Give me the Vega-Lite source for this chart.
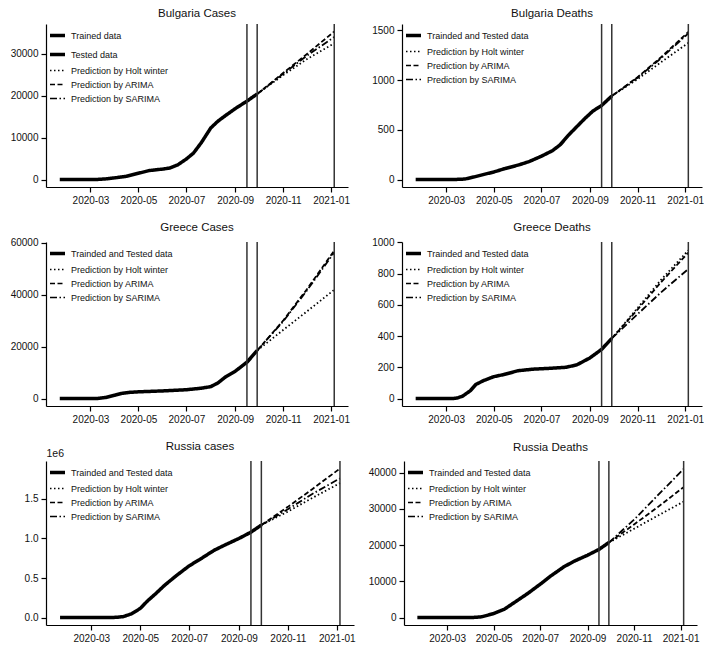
{
  "$schema": "https://vega.github.io/schema/vega-lite/v6.json",
  "padding": {"left": 6, "top": 7, "right": 0, "bottom": 0},
  "background": "white",
  "datasets": {
    "rules": [{"d": "2020-09-16"}, {"d": "2020-09-29"}, {"d": "2021-01-05"}],
    "ts": [
      {"p":"BG_C","s":"Trained data","d":"2020-01-22","v":0},
      {"p":"BG_C","s":"Trained data","d":"2020-02-20","v":0},
      {"p":"BG_C","s":"Trained data","d":"2020-03-08","v":0},
      {"p":"BG_C","s":"Trained data","d":"2020-03-20","v":150},
      {"p":"BG_C","s":"Trained data","d":"2020-04-01","v":400},
      {"p":"BG_C","s":"Trained data","d":"2020-04-15","v":750},
      {"p":"BG_C","s":"Trained data","d":"2020-05-01","v":1500},
      {"p":"BG_C","s":"Trained data","d":"2020-05-15","v":2150},
      {"p":"BG_C","s":"Trained data","d":"2020-06-01","v":2500},
      {"p":"BG_C","s":"Trained data","d":"2020-06-10","v":2750},
      {"p":"BG_C","s":"Trained data","d":"2020-06-20","v":3500},
      {"p":"BG_C","s":"Trained data","d":"2020-07-01","v":4900},
      {"p":"BG_C","s":"Trained data","d":"2020-07-10","v":6300},
      {"p":"BG_C","s":"Trained data","d":"2020-07-20","v":8800},
      {"p":"BG_C","s":"Trained data","d":"2020-08-01","v":12300},
      {"p":"BG_C","s":"Trained data","d":"2020-08-10","v":13900},
      {"p":"BG_C","s":"Trained data","d":"2020-08-20","v":15300},
      {"p":"BG_C","s":"Trained data","d":"2020-09-01","v":16900},
      {"p":"BG_C","s":"Trained data","d":"2020-09-16","v":18700},
      {"p":"BG_C","s":"Tested data","d":"2020-09-16","v":18700},
      {"p":"BG_C","s":"Tested data","d":"2020-09-22","v":19500},
      {"p":"BG_C","s":"Tested data","d":"2020-09-29","v":20400},
      {"p":"BG_C","s":"Prediction by Holt winter","d":"2020-09-29","v":20400},
      {"p":"BG_C","s":"Prediction by Holt winter","d":"2020-11-01","v":24900},
      {"p":"BG_C","s":"Prediction by Holt winter","d":"2020-12-01","v":28700},
      {"p":"BG_C","s":"Prediction by Holt winter","d":"2021-01-05","v":32500},
      {"p":"BG_C","s":"Prediction by ARIMA","d":"2020-09-29","v":20400},
      {"p":"BG_C","s":"Prediction by ARIMA","d":"2020-11-01","v":25400},
      {"p":"BG_C","s":"Prediction by ARIMA","d":"2020-12-01","v":29900},
      {"p":"BG_C","s":"Prediction by ARIMA","d":"2021-01-05","v":35300},
      {"p":"BG_C","s":"Prediction by SARIMA","d":"2020-09-29","v":20400},
      {"p":"BG_C","s":"Prediction by SARIMA","d":"2020-11-01","v":25200},
      {"p":"BG_C","s":"Prediction by SARIMA","d":"2020-12-01","v":29500},
      {"p":"BG_C","s":"Prediction by SARIMA","d":"2021-01-05","v":34000},

      {"p":"BG_D","s":"Trainded and Tested data","d":"2020-01-22","v":0},
      {"p":"BG_D","s":"Trainded and Tested data","d":"2020-02-20","v":0},
      {"p":"BG_D","s":"Trainded and Tested data","d":"2020-03-10","v":0},
      {"p":"BG_D","s":"Trainded and Tested data","d":"2020-03-25","v":5},
      {"p":"BG_D","s":"Trainded and Tested data","d":"2020-04-05","v":25},
      {"p":"BG_D","s":"Trainded and Tested data","d":"2020-04-15","v":45},
      {"p":"BG_D","s":"Trainded and Tested data","d":"2020-05-01","v":76},
      {"p":"BG_D","s":"Trainded and Tested data","d":"2020-05-15","v":110},
      {"p":"BG_D","s":"Trainded and Tested data","d":"2020-06-01","v":145},
      {"p":"BG_D","s":"Trainded and Tested data","d":"2020-06-15","v":180},
      {"p":"BG_D","s":"Trainded and Tested data","d":"2020-07-01","v":235},
      {"p":"BG_D","s":"Trainded and Tested data","d":"2020-07-15","v":290},
      {"p":"BG_D","s":"Trainded and Tested data","d":"2020-07-25","v":350},
      {"p":"BG_D","s":"Trainded and Tested data","d":"2020-08-05","v":450},
      {"p":"BG_D","s":"Trainded and Tested data","d":"2020-08-15","v":530},
      {"p":"BG_D","s":"Trainded and Tested data","d":"2020-08-25","v":610},
      {"p":"BG_D","s":"Trainded and Tested data","d":"2020-09-05","v":690},
      {"p":"BG_D","s":"Trainded and Tested data","d":"2020-09-16","v":745},
      {"p":"BG_D","s":"Trainded and Tested data","d":"2020-09-29","v":840},
      {"p":"BG_D","s":"Prediction by Holt winter","d":"2020-09-29","v":840},
      {"p":"BG_D","s":"Prediction by Holt winter","d":"2020-11-01","v":1010},
      {"p":"BG_D","s":"Prediction by Holt winter","d":"2020-12-01","v":1180},
      {"p":"BG_D","s":"Prediction by Holt winter","d":"2021-01-05","v":1375},
      {"p":"BG_D","s":"Prediction by ARIMA","d":"2020-09-29","v":840},
      {"p":"BG_D","s":"Prediction by ARIMA","d":"2020-11-01","v":1030},
      {"p":"BG_D","s":"Prediction by ARIMA","d":"2020-12-01","v":1230},
      {"p":"BG_D","s":"Prediction by ARIMA","d":"2021-01-05","v":1485},
      {"p":"BG_D","s":"Prediction by SARIMA","d":"2020-09-29","v":840},
      {"p":"BG_D","s":"Prediction by SARIMA","d":"2020-11-01","v":1025},
      {"p":"BG_D","s":"Prediction by SARIMA","d":"2020-12-01","v":1220},
      {"p":"BG_D","s":"Prediction by SARIMA","d":"2021-01-05","v":1470},

      {"p":"GR_C","s":"Trainded and Tested data","d":"2020-01-22","v":0},
      {"p":"GR_C","s":"Trainded and Tested data","d":"2020-02-25","v":0},
      {"p":"GR_C","s":"Trainded and Tested data","d":"2020-03-10","v":50},
      {"p":"GR_C","s":"Trainded and Tested data","d":"2020-03-20","v":400},
      {"p":"GR_C","s":"Trainded and Tested data","d":"2020-04-01","v":1300},
      {"p":"GR_C","s":"Trainded and Tested data","d":"2020-04-10","v":2000},
      {"p":"GR_C","s":"Trainded and Tested data","d":"2020-04-20","v":2400},
      {"p":"GR_C","s":"Trainded and Tested data","d":"2020-05-01","v":2600},
      {"p":"GR_C","s":"Trainded and Tested data","d":"2020-06-01","v":2950},
      {"p":"GR_C","s":"Trainded and Tested data","d":"2020-07-01","v":3400},
      {"p":"GR_C","s":"Trainded and Tested data","d":"2020-07-20","v":4000},
      {"p":"GR_C","s":"Trainded and Tested data","d":"2020-08-01","v":4600},
      {"p":"GR_C","s":"Trainded and Tested data","d":"2020-08-10","v":6000},
      {"p":"GR_C","s":"Trainded and Tested data","d":"2020-08-20","v":8400},
      {"p":"GR_C","s":"Trainded and Tested data","d":"2020-09-01","v":10500},
      {"p":"GR_C","s":"Trainded and Tested data","d":"2020-09-16","v":14000},
      {"p":"GR_C","s":"Trainded and Tested data","d":"2020-09-29","v":18500},
      {"p":"GR_C","s":"Prediction by Holt winter","d":"2020-09-29","v":18500},
      {"p":"GR_C","s":"Prediction by Holt winter","d":"2020-11-01","v":26400},
      {"p":"GR_C","s":"Prediction by Holt winter","d":"2020-12-01","v":33500},
      {"p":"GR_C","s":"Prediction by Holt winter","d":"2021-01-05","v":41900},
      {"p":"GR_C","s":"Prediction by ARIMA","d":"2020-09-29","v":18500},
      {"p":"GR_C","s":"Prediction by ARIMA","d":"2020-11-01","v":30000},
      {"p":"GR_C","s":"Prediction by ARIMA","d":"2020-12-01","v":42000},
      {"p":"GR_C","s":"Prediction by ARIMA","d":"2021-01-05","v":57000},
      {"p":"GR_C","s":"Prediction by SARIMA","d":"2020-09-29","v":18500},
      {"p":"GR_C","s":"Prediction by SARIMA","d":"2020-11-01","v":29700},
      {"p":"GR_C","s":"Prediction by SARIMA","d":"2020-12-01","v":41500},
      {"p":"GR_C","s":"Prediction by SARIMA","d":"2021-01-05","v":56300},

      {"p":"GR_D","s":"Trainded and Tested data","d":"2020-01-22","v":0},
      {"p":"GR_D","s":"Trainded and Tested data","d":"2020-03-10","v":0},
      {"p":"GR_D","s":"Trainded and Tested data","d":"2020-03-15","v":3},
      {"p":"GR_D","s":"Trainded and Tested data","d":"2020-03-22","v":15},
      {"p":"GR_D","s":"Trainded and Tested data","d":"2020-04-01","v":50},
      {"p":"GR_D","s":"Trainded and Tested data","d":"2020-04-08","v":90},
      {"p":"GR_D","s":"Trainded and Tested data","d":"2020-04-18","v":115},
      {"p":"GR_D","s":"Trainded and Tested data","d":"2020-05-01","v":140},
      {"p":"GR_D","s":"Trainded and Tested data","d":"2020-05-15","v":155},
      {"p":"GR_D","s":"Trainded and Tested data","d":"2020-06-01","v":178},
      {"p":"GR_D","s":"Trainded and Tested data","d":"2020-06-20","v":188},
      {"p":"GR_D","s":"Trainded and Tested data","d":"2020-07-10","v":193},
      {"p":"GR_D","s":"Trainded and Tested data","d":"2020-08-01","v":200},
      {"p":"GR_D","s":"Trainded and Tested data","d":"2020-08-15","v":215},
      {"p":"GR_D","s":"Trainded and Tested data","d":"2020-09-01","v":260},
      {"p":"GR_D","s":"Trainded and Tested data","d":"2020-09-16","v":315},
      {"p":"GR_D","s":"Trainded and Tested data","d":"2020-09-29","v":385},
      {"p":"GR_D","s":"Prediction by Holt winter","d":"2020-09-29","v":385},
      {"p":"GR_D","s":"Prediction by Holt winter","d":"2020-11-01","v":580},
      {"p":"GR_D","s":"Prediction by Holt winter","d":"2020-12-01","v":760},
      {"p":"GR_D","s":"Prediction by Holt winter","d":"2021-01-05","v":950},
      {"p":"GR_D","s":"Prediction by ARIMA","d":"2020-09-29","v":385},
      {"p":"GR_D","s":"Prediction by ARIMA","d":"2020-11-01","v":570},
      {"p":"GR_D","s":"Prediction by ARIMA","d":"2020-12-01","v":745},
      {"p":"GR_D","s":"Prediction by ARIMA","d":"2021-01-05","v":935},
      {"p":"GR_D","s":"Prediction by SARIMA","d":"2020-09-29","v":385},
      {"p":"GR_D","s":"Prediction by SARIMA","d":"2020-11-01","v":540},
      {"p":"GR_D","s":"Prediction by SARIMA","d":"2020-12-01","v":680},
      {"p":"GR_D","s":"Prediction by SARIMA","d":"2021-01-05","v":830},

      {"p":"RU_C","s":"Trainded and Tested data","d":"2020-01-22","v":0},
      {"p":"RU_C","s":"Trainded and Tested data","d":"2020-03-01","v":0},
      {"p":"RU_C","s":"Trainded and Tested data","d":"2020-03-20","v":200},
      {"p":"RU_C","s":"Trainded and Tested data","d":"2020-04-01","v":2800},
      {"p":"RU_C","s":"Trainded and Tested data","d":"2020-04-10","v":12000},
      {"p":"RU_C","s":"Trainded and Tested data","d":"2020-04-20","v":47000},
      {"p":"RU_C","s":"Trainded and Tested data","d":"2020-05-01","v":115000},
      {"p":"RU_C","s":"Trainded and Tested data","d":"2020-05-10","v":210000},
      {"p":"RU_C","s":"Trainded and Tested data","d":"2020-05-20","v":300000},
      {"p":"RU_C","s":"Trainded and Tested data","d":"2020-06-01","v":414000},
      {"p":"RU_C","s":"Trainded and Tested data","d":"2020-06-15","v":530000},
      {"p":"RU_C","s":"Trainded and Tested data","d":"2020-07-01","v":654000},
      {"p":"RU_C","s":"Trainded and Tested data","d":"2020-07-15","v":740000},
      {"p":"RU_C","s":"Trainded and Tested data","d":"2020-08-01","v":850000},
      {"p":"RU_C","s":"Trainded and Tested data","d":"2020-08-15","v":920000},
      {"p":"RU_C","s":"Trainded and Tested data","d":"2020-09-01","v":1000000},
      {"p":"RU_C","s":"Trainded and Tested data","d":"2020-09-16","v":1080000},
      {"p":"RU_C","s":"Trainded and Tested data","d":"2020-09-29","v":1170000},
      {"p":"RU_C","s":"Prediction by Holt winter","d":"2020-09-29","v":1170000},
      {"p":"RU_C","s":"Prediction by Holt winter","d":"2020-11-01","v":1340000},
      {"p":"RU_C","s":"Prediction by Holt winter","d":"2020-12-01","v":1510000},
      {"p":"RU_C","s":"Prediction by Holt winter","d":"2021-01-05","v":1700000},
      {"p":"RU_C","s":"Prediction by ARIMA","d":"2020-09-29","v":1170000},
      {"p":"RU_C","s":"Prediction by ARIMA","d":"2020-11-01","v":1400000},
      {"p":"RU_C","s":"Prediction by ARIMA","d":"2020-12-01","v":1620000},
      {"p":"RU_C","s":"Prediction by ARIMA","d":"2021-01-05","v":1885000},
      {"p":"RU_C","s":"Prediction by SARIMA","d":"2020-09-29","v":1170000},
      {"p":"RU_C","s":"Prediction by SARIMA","d":"2020-11-01","v":1370000},
      {"p":"RU_C","s":"Prediction by SARIMA","d":"2020-12-01","v":1560000},
      {"p":"RU_C","s":"Prediction by SARIMA","d":"2021-01-05","v":1760000},

      {"p":"RU_D","s":"Trainded and Tested data","d":"2020-01-22","v":0},
      {"p":"RU_D","s":"Trainded and Tested data","d":"2020-03-20","v":0},
      {"p":"RU_D","s":"Trainded and Tested data","d":"2020-04-05","v":50},
      {"p":"RU_D","s":"Trainded and Tested data","d":"2020-04-15","v":200},
      {"p":"RU_D","s":"Trainded and Tested data","d":"2020-05-01","v":1100},
      {"p":"RU_D","s":"Trainded and Tested data","d":"2020-05-15","v":2300},
      {"p":"RU_D","s":"Trainded and Tested data","d":"2020-06-01","v":4700},
      {"p":"RU_D","s":"Trainded and Tested data","d":"2020-06-15","v":6700},
      {"p":"RU_D","s":"Trainded and Tested data","d":"2020-07-01","v":9200},
      {"p":"RU_D","s":"Trainded and Tested data","d":"2020-07-15","v":11500},
      {"p":"RU_D","s":"Trainded and Tested data","d":"2020-08-01","v":14000},
      {"p":"RU_D","s":"Trainded and Tested data","d":"2020-08-15","v":15600},
      {"p":"RU_D","s":"Trainded and Tested data","d":"2020-09-01","v":17200},
      {"p":"RU_D","s":"Trainded and Tested data","d":"2020-09-16","v":18800},
      {"p":"RU_D","s":"Trainded and Tested data","d":"2020-09-29","v":20700},
      {"p":"RU_D","s":"Prediction by Holt winter","d":"2020-09-29","v":20700},
      {"p":"RU_D","s":"Prediction by Holt winter","d":"2020-11-01","v":24500},
      {"p":"RU_D","s":"Prediction by Holt winter","d":"2020-12-01","v":28000},
      {"p":"RU_D","s":"Prediction by Holt winter","d":"2021-01-05","v":32000},
      {"p":"RU_D","s":"Prediction by ARIMA","d":"2020-09-29","v":20700},
      {"p":"RU_D","s":"Prediction by ARIMA","d":"2020-11-01","v":25700},
      {"p":"RU_D","s":"Prediction by ARIMA","d":"2020-12-01","v":30300},
      {"p":"RU_D","s":"Prediction by ARIMA","d":"2021-01-05","v":36000},
      {"p":"RU_D","s":"Prediction by SARIMA","d":"2020-09-29","v":20700},
      {"p":"RU_D","s":"Prediction by SARIMA","d":"2020-11-01","v":27000},
      {"p":"RU_D","s":"Prediction by SARIMA","d":"2020-12-01","v":33500},
      {"p":"RU_D","s":"Prediction by SARIMA","d":"2021-01-05","v":41000}
    ]
  },
  "resolve": {"scale": {"x": "independent", "y": "independent", "strokeDash": "independent"}, "legend": {"strokeDash": "independent"}},
  "spacing": 16,
  "vconcat": [
    {
      "spacing": 20,
      "resolve": {"scale": {"x": "independent", "y": "independent", "strokeDash": "independent"}, "legend": {"strokeDash": "independent"}},
      "hconcat": [
        {
          "title": "Bulgaria Cases",
          "width": 302, "height": 163,
          "layer": [
            {
              "data": {"name": "ts"},
              "transform": [{"filter": "datum.p === 'BG_C'"}],
              "mark": {"type": "line", "color": "black"},
              "encoding": {
                "x": {"field": "d", "type": "temporal", "title": null,
                      "scale": {"type": "utc", "domain": [{"year": 2020, "month": 1, "date": 4, "hours": 12, "utc": true}, {"year": 2021, "month": 1, "date": 22, "hours": 12, "utc": true}]},
                      "axis": {"format": "%Y-%m", "values": [{"year": 2020, "month": 3, "date": 1, "utc": true}, {"year": 2020, "month": 5, "date": 1, "utc": true}, {"year": 2020, "month": 7, "date": 1, "utc": true}, {"year": 2020, "month": 9, "date": 1, "utc": true}, {"year": 2020, "month": 11, "date": 1, "utc": true}, {"year": 2021, "month": 1, "date": 1, "utc": true}]}},
                "y": {"field": "v", "type": "quantitative", "title": null,
                      "scale": {"domain": [-1780, 37100], "nice": false, "zero": false},
                      "axis": {"values": [0, 10000, 20000, 30000], "format": "d", "minExtent": 40, "maxExtent": 40}},
                "strokeDash": {"field": "s", "type": "nominal",
                  "scale": {"domain": ["Trained data", "Tested data", "Prediction by Holt winter", "Prediction by ARIMA", "Prediction by SARIMA"], "range": [[1, 0], [1, 0], [1.5, 2.5], [5, 2.5], [7, 2.5, 1.5, 2.5]]},
                  "legend": {"title": null, "orient": "top-left", "encode": {"symbols": {"update": {"strokeWidth": {"signal": "indexof(['Trained data','Tested data','Trainded and Tested data'], datum.value) >= 0 ? 3.5 : 1.5"}}}}}},
                "strokeWidth": {"condition": {"test": "indexof(['Trained data','Tested data','Trainded and Tested data'], datum.s) >= 0", "value": 3.5}, "value": 1.8}
              }
            },
            {
              "data": {"name": "rules"},
              "mark": {"type": "rule", "color": "#333", "strokeWidth": 1.5},
              "encoding": {"x": {"field": "d", "type": "temporal"}}
            }
          ]
        },
        {
          "title": "Bulgaria Deaths",
          "width": 300, "height": 163,
          "layer": [
            {
              "data": {"name": "ts"},
              "transform": [{"filter": "datum.p === 'BG_D'"}],
              "mark": {"type": "line", "color": "black"},
              "encoding": {
                "x": {"field": "d", "type": "temporal", "title": null,
                      "scale": {"type": "utc", "domain": [{"year": 2020, "month": 1, "date": 4, "hours": 12, "utc": true}, {"year": 2021, "month": 1, "date": 22, "hours": 12, "utc": true}]},
                      "axis": {"format": "%Y-%m", "values": [{"year": 2020, "month": 3, "date": 1, "utc": true}, {"year": 2020, "month": 5, "date": 1, "utc": true}, {"year": 2020, "month": 7, "date": 1, "utc": true}, {"year": 2020, "month": 9, "date": 1, "utc": true}, {"year": 2020, "month": 11, "date": 1, "utc": true}, {"year": 2021, "month": 1, "date": 1, "utc": true}]}},
                "y": {"field": "v", "type": "quantitative", "title": null,
                      "scale": {"domain": [-75, 1565], "nice": false, "zero": false},
                      "axis": {"values": [0, 500, 1000, 1500], "format": "d", "minExtent": 32, "maxExtent": 32}},
                "strokeDash": {"field": "s", "type": "nominal",
                  "scale": {"domain": ["Trainded and Tested data", "Prediction by Holt winter", "Prediction by ARIMA", "Prediction by SARIMA"], "range": [[1, 0], [1.5, 2.5], [5, 2.5], [7, 2.5, 1.5, 2.5]]},
                  "legend": {"title": null, "orient": "top-left", "encode": {"symbols": {"update": {"strokeWidth": {"signal": "indexof(['Trained data','Tested data','Trainded and Tested data'], datum.value) >= 0 ? 3.5 : 1.5"}}}}}},
                "strokeWidth": {"condition": {"test": "indexof(['Trained data','Tested data','Trainded and Tested data'], datum.s) >= 0", "value": 3.5}, "value": 1.8}
              }
            },
            {
              "data": {"name": "rules"},
              "mark": {"type": "rule", "color": "#333", "strokeWidth": 1.5},
              "encoding": {"x": {"field": "d", "type": "temporal"}}
            }
          ]
        }
      ]
    },
    {
      "spacing": 20,
      "resolve": {"scale": {"x": "independent", "y": "independent", "strokeDash": "independent"}, "legend": {"strokeDash": "independent"}},
      "hconcat": [
        {
          "title": "Greece Cases",
          "width": 302, "height": 164,
          "layer": [
            {
              "data": {"name": "ts"},
              "transform": [{"filter": "datum.p === 'GR_C'"}],
              "mark": {"type": "line", "color": "black"},
              "encoding": {
                "x": {"field": "d", "type": "temporal", "title": null,
                      "scale": {"type": "utc", "domain": [{"year": 2020, "month": 1, "date": 4, "hours": 12, "utc": true}, {"year": 2021, "month": 1, "date": 22, "hours": 12, "utc": true}]},
                      "axis": {"format": "%Y-%m", "values": [{"year": 2020, "month": 3, "date": 1, "utc": true}, {"year": 2020, "month": 5, "date": 1, "utc": true}, {"year": 2020, "month": 7, "date": 1, "utc": true}, {"year": 2020, "month": 9, "date": 1, "utc": true}, {"year": 2020, "month": 11, "date": 1, "utc": true}, {"year": 2021, "month": 1, "date": 1, "utc": true}]}},
                "y": {"field": "v", "type": "quantitative", "title": null,
                      "scale": {"domain": [-2860, 60300], "nice": false, "zero": false},
                      "axis": {"values": [0, 20000, 40000, 60000], "format": "d", "minExtent": 40, "maxExtent": 40}},
                "strokeDash": {"field": "s", "type": "nominal",
                  "scale": {"domain": ["Trainded and Tested data", "Prediction by Holt winter", "Prediction by ARIMA", "Prediction by SARIMA"], "range": [[1, 0], [1.5, 2.5], [5, 2.5], [7, 2.5, 1.5, 2.5]]},
                  "legend": {"title": null, "orient": "top-left", "encode": {"symbols": {"update": {"strokeWidth": {"signal": "indexof(['Trained data','Tested data','Trainded and Tested data'], datum.value) >= 0 ? 3.5 : 1.5"}}}}}},
                "strokeWidth": {"condition": {"test": "indexof(['Trained data','Tested data','Trainded and Tested data'], datum.s) >= 0", "value": 3.5}, "value": 1.8}
              }
            },
            {
              "data": {"name": "rules"},
              "mark": {"type": "rule", "color": "#333", "strokeWidth": 1.5},
              "encoding": {"x": {"field": "d", "type": "temporal"}}
            }
          ]
        },
        {
          "title": "Greece Deaths",
          "width": 300, "height": 164,
          "layer": [
            {
              "data": {"name": "ts"},
              "transform": [{"filter": "datum.p === 'GR_D'"}],
              "mark": {"type": "line", "color": "black"},
              "encoding": {
                "x": {"field": "d", "type": "temporal", "title": null,
                      "scale": {"type": "utc", "domain": [{"year": 2020, "month": 1, "date": 4, "hours": 12, "utc": true}, {"year": 2021, "month": 1, "date": 22, "hours": 12, "utc": true}]},
                      "axis": {"format": "%Y-%m", "values": [{"year": 2020, "month": 3, "date": 1, "utc": true}, {"year": 2020, "month": 5, "date": 1, "utc": true}, {"year": 2020, "month": 7, "date": 1, "utc": true}, {"year": 2020, "month": 9, "date": 1, "utc": true}, {"year": 2020, "month": 11, "date": 1, "utc": true}, {"year": 2021, "month": 1, "date": 1, "utc": true}]}},
                "y": {"field": "v", "type": "quantitative", "title": null,
                      "scale": {"domain": [-48, 1003], "nice": false, "zero": false},
                      "axis": {"values": [0, 200, 400, 600, 800, 1000], "format": "d", "minExtent": 32, "maxExtent": 32}},
                "strokeDash": {"field": "s", "type": "nominal",
                  "scale": {"domain": ["Trainded and Tested data", "Prediction by Holt winter", "Prediction by ARIMA", "Prediction by SARIMA"], "range": [[1, 0], [1.5, 2.5], [5, 2.5], [7, 2.5, 1.5, 2.5]]},
                  "legend": {"title": null, "orient": "top-left", "encode": {"symbols": {"update": {"strokeWidth": {"signal": "indexof(['Trained data','Tested data','Trainded and Tested data'], datum.value) >= 0 ? 3.5 : 1.5"}}}}}},
                "strokeWidth": {"condition": {"test": "indexof(['Trained data','Tested data','Trainded and Tested data'], datum.s) >= 0", "value": 3.5}, "value": 1.8}
              }
            },
            {
              "data": {"name": "rules"},
              "mark": {"type": "rule", "color": "#333", "strokeWidth": 1.5},
              "encoding": {"x": {"field": "d", "type": "temporal"}}
            }
          ]
        }
      ]
    },
    {
      "spacing": 11,
      "resolve": {"scale": {"x": "independent", "y": "independent", "strokeDash": "independent"}, "legend": {"strokeDash": "independent"}},
      "hconcat": [
        {
          "title": {"text": "Russia cases", "offset": -4},
          "width": 308, "height": 164,
          "layer": [
            {
              "data": {"name": "ts"},
              "transform": [{"filter": "datum.p === 'RU_C'"}],
              "mark": {"type": "line", "color": "black"},
              "encoding": {
                "x": {"field": "d", "type": "temporal", "title": null,
                      "scale": {"type": "utc", "domain": [{"year": 2020, "month": 1, "date": 4, "hours": 12, "utc": true}, {"year": 2021, "month": 1, "date": 22, "hours": 12, "utc": true}]},
                      "axis": {"format": "%Y-%m", "values": [{"year": 2020, "month": 3, "date": 1, "utc": true}, {"year": 2020, "month": 5, "date": 1, "utc": true}, {"year": 2020, "month": 7, "date": 1, "utc": true}, {"year": 2020, "month": 9, "date": 1, "utc": true}, {"year": 2020, "month": 11, "date": 1, "utc": true}, {"year": 2021, "month": 1, "date": 1, "utc": true}]}},
                "y": {"field": "v", "type": "quantitative", "title": "1e6",
                      "scale": {"domain": [-94000, 1980000], "nice": false, "zero": false},
                      "axis": {"values": [0, 500000, 1000000, 1500000], "labelExpr": "format(datum.value / 1000000, '.1f')", "minExtent": 29, "maxExtent": 29,
                               "titleAngle": 0, "titleAlign": "left", "titleBaseline": "bottom", "titleX": 0, "titleY": -3, "titleFontWeight": "normal", "titleFontSize": 10.5}},
                "strokeDash": {"field": "s", "type": "nominal",
                  "scale": {"domain": ["Trainded and Tested data", "Prediction by Holt winter", "Prediction by ARIMA", "Prediction by SARIMA"], "range": [[1, 0], [1.5, 2.5], [5, 2.5], [7, 2.5, 1.5, 2.5]]},
                  "legend": {"title": null, "orient": "top-left", "encode": {"symbols": {"update": {"strokeWidth": {"signal": "indexof(['Trained data','Tested data','Trainded and Tested data'], datum.value) >= 0 ? 3.5 : 1.5"}}}}}},
                "strokeWidth": {"condition": {"test": "indexof(['Trained data','Tested data','Trainded and Tested data'], datum.s) >= 0", "value": 3.5}, "value": 1.8}
              }
            },
            {
              "data": {"name": "rules"},
              "mark": {"type": "rule", "color": "#333", "strokeWidth": 1.5},
              "encoding": {"x": {"field": "d", "type": "temporal"}}
            }
          ]
        },
        {
          "title": {"text": "Russia Deaths", "offset": 7},
          "width": 293, "height": 164,
          "layer": [
            {
              "data": {"name": "ts"},
              "transform": [{"filter": "datum.p === 'RU_D'"}],
              "mark": {"type": "line", "color": "black"},
              "encoding": {
                "x": {"field": "d", "type": "temporal", "title": null,
                      "scale": {"type": "utc", "domain": [{"year": 2020, "month": 1, "date": 4, "hours": 12, "utc": true}, {"year": 2021, "month": 1, "date": 22, "hours": 12, "utc": true}]},
                      "axis": {"format": "%Y-%m", "values": [{"year": 2020, "month": 3, "date": 1, "utc": true}, {"year": 2020, "month": 5, "date": 1, "utc": true}, {"year": 2020, "month": 7, "date": 1, "utc": true}, {"year": 2020, "month": 9, "date": 1, "utc": true}, {"year": 2020, "month": 11, "date": 1, "utc": true}, {"year": 2021, "month": 1, "date": 1, "utc": true}]}},
                "y": {"field": "v", "type": "quantitative", "title": null,
                      "scale": {"domain": [-2050, 43200], "nice": false, "zero": false},
                      "axis": {"values": [0, 10000, 20000, 30000, 40000], "format": "d", "minExtent": 37, "maxExtent": 37}},
                "strokeDash": {"field": "s", "type": "nominal",
                  "scale": {"domain": ["Trainded and Tested data", "Prediction by Holt winter", "Prediction by ARIMA", "Prediction by SARIMA"], "range": [[1, 0], [1.5, 2.5], [5, 2.5], [7, 2.5, 1.5, 2.5]]},
                  "legend": {"title": null, "orient": "top-left", "encode": {"symbols": {"update": {"strokeWidth": {"signal": "indexof(['Trained data','Tested data','Trainded and Tested data'], datum.value) >= 0 ? 3.5 : 1.5"}}}}}},
                "strokeWidth": {"condition": {"test": "indexof(['Trained data','Tested data','Trainded and Tested data'], datum.s) >= 0", "value": 3.5}, "value": 1.8}
              }
            },
            {
              "data": {"name": "rules"},
              "mark": {"type": "rule", "color": "#333", "strokeWidth": 1.5},
              "encoding": {"x": {"field": "d", "type": "temporal"}}
            }
          ]
        }
      ]
    }
  ],
  "config": {
    "font": "Liberation Sans, Arial, sans-serif",
    "view": {"stroke": null},
    "axis": {"grid": false, "domainColor": "#000", "domainWidth": 1.2, "tickColor": "#000", "tickWidth": 1.2, "tickSize": 5, "labelColor": "#111", "labelFontSize": 10, "labelPadding": 3, "labelOverlap": false, "labelFlush": false, "titleColor": "#111"},
    "title": {"fontSize": 11.5, "fontWeight": "normal", "color": "#111", "offset": 4},
    "legend": {"symbolType": "stroke", "symbolSize": 225, "symbolStrokeColor": "black", "labelFontSize": 9, "labelColor": "#111", "labelOffset": 9, "rowPadding": 4, "offset": 7, "padding": 0, "labelLimit": 300}
  }
}
